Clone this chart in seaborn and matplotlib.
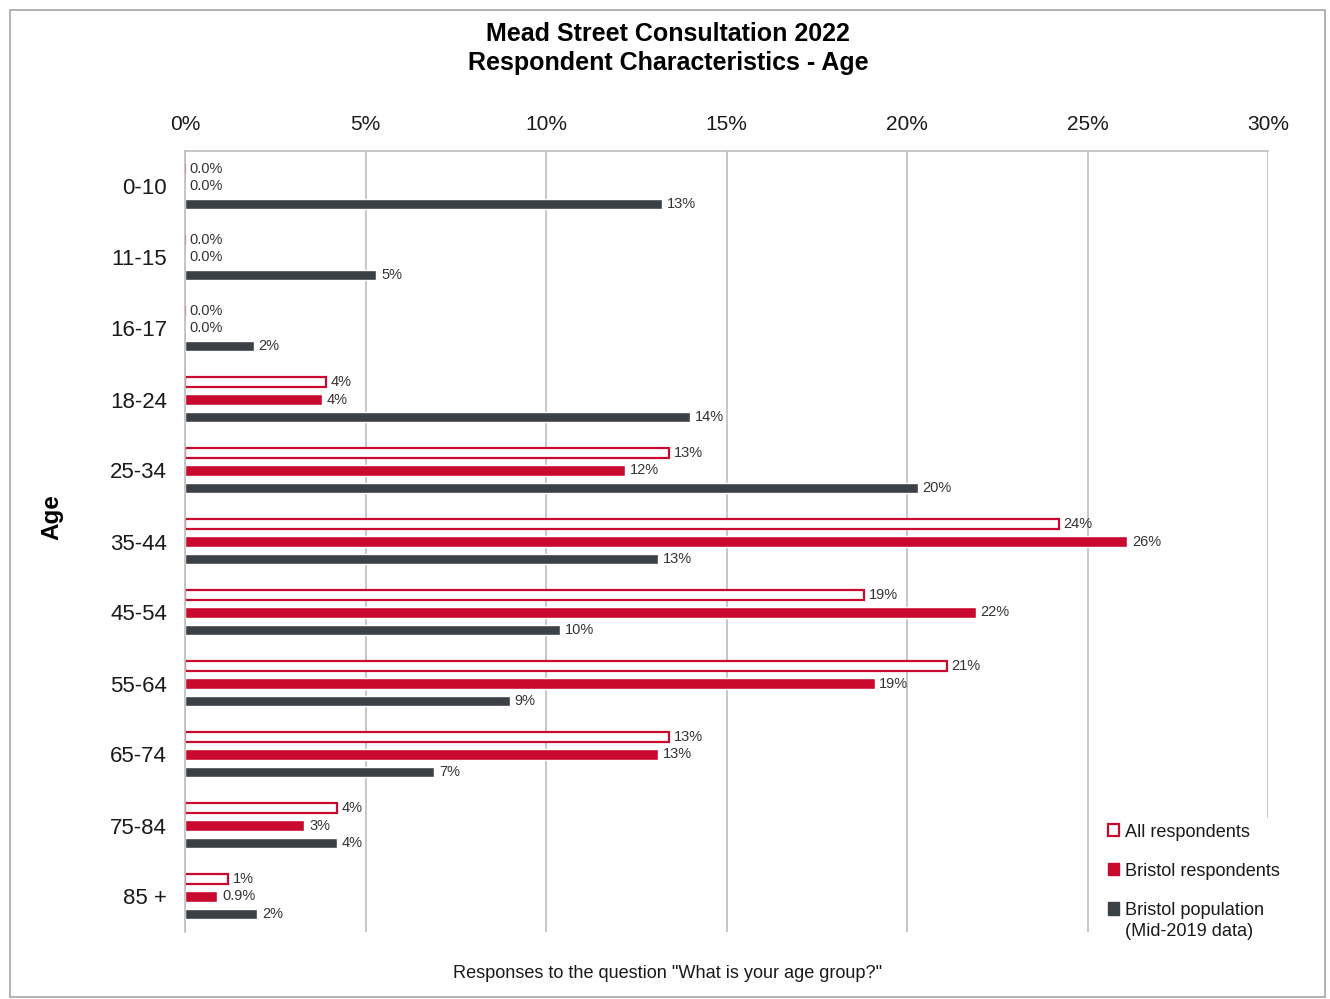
import numpy as np
import pandas as pd
import matplotlib
matplotlib.use("Agg")
import matplotlib.pyplot as plt
from matplotlib.patches import Patch, Rectangle
from matplotlib.ticker import PercentFormatter
import seaborn as sns

# Age groups and the share of each group (%)
age_groups = ["0-10", "11-15", "16-17", "18-24", "25-34", "35-44",
              "45-54", "55-64", "65-74", "75-84", "85 +"]
all_respondents = [0.0, 0.0, 0.0, 3.9, 13.4, 24.2, 18.8, 21.1, 13.4, 4.2, 1.2]
bristol_respondents = [0.0, 0.0, 0.0, 3.8, 12.2, 26.1, 21.9, 19.1, 13.1, 3.3, 0.9]
bristol_population = [13.2, 5.3, 1.9, 14.0, 20.3, 13.1, 10.4, 9.0, 6.9, 4.2, 2.0]

series_names = ["All respondents", "Bristol respondents", "Bristol population"]
x_ticks = [0, 5, 10, 15, 20, 25, 30]

RED = "#C90A2E"
DARK = "#3C4047"
GRID = "#BDBDBD"

df = pd.DataFrame({
    "Age": age_groups * 3,
    "Percent": all_respondents + bristol_respondents + bristol_population,
    "Series": np.repeat(series_names, len(age_groups)),
})

sns.set_theme(style="white")
plt.rcParams["font.family"] = ["Liberation Sans", "DejaVu Sans"]

fig = plt.figure(figsize=(13.3, 9.99), dpi=100)
ax = fig.add_axes([185 / 1330, 1 - 932 / 999, (1268 - 185) / 1330, (932 - 151) / 999])

sns.barplot(data=df, y="Age", x="Percent", hue="Series", order=age_groups,
            hue_order=series_names, orient="h", width=0.74, saturation=1,
            palette=[RED, RED, DARK], legend=False, ax=ax, errorbar=None)

# slimmer bars, same centres
bar_h = 0.145
for cont in ax.containers:
    for p in cont.patches:
        yc = p.get_y() + p.get_height() / 2
        p.set_height(bar_h)
        p.set_y(yc - bar_h / 2)
for p in ax.containers[0].patches:
    p.set_facecolor("white")
    p.set_edgecolor(RED)
    p.set_linewidth(1.6)


def fmt(v):
    return f"{v:.1f}%" if v < 1 else f"{v:.0f}%"


for cont, vals in zip(ax.containers, [all_respondents, bristol_respondents, bristol_population]):
    ax.bar_label(cont, labels=[fmt(v) for v in vals], padding=3.5,
                 fontsize=10.5, color="#333333")

ax.set_xlim(0, 30)
ax.set_ylim(10.5, -0.5)
ax.set_xticks(x_ticks)
ax.xaxis.set_major_formatter(PercentFormatter(decimals=0))
ax.xaxis.tick_top()
ax.tick_params(axis="x", length=0, pad=12, labelsize=15, labelcolor="#1a1a1a")
ax.grid(axis="x", color=GRID, linewidth=1.2)
ax.set_axisbelow(True)

ax.set_yticks(np.arange(-0.5, 11, 1), minor=True)
ax.tick_params(axis="y", which="major", length=0, pad=13, labelsize=16, labelcolor="#1a1a1a")
ax.tick_params(axis="y", which="minor", length=7, width=1, color=GRID, direction="out")

for side in ["right", "bottom"]:
    ax.spines[side].set_visible(False)
for side in ["top", "left"]:
    ax.spines[side].set_color(GRID)
    ax.spines[side].set_linewidth(1.2)

ax.set_xlabel("")
ax.set_ylabel("Age", fontsize=17.5, fontweight="bold", color="black")
ax.yaxis.set_label_coords((63 - 185) / 1083, (932 - 517) / 781)

fig.text(668 / 1330, 1 - 48.5 / 999,
         "Mead Street Consultation 2022\nRespondent Characteristics - Age",
         ha="center", va="center", fontsize=18, fontweight="bold",
         linespacing=1.24, color="black")
fig.text(668 / 1330, 1 - 973 / 999,
         'Responses to the question "What is your age group?"',
         ha="center", va="center", fontsize=13.1, color="#1a1a1a")

# white panel behind the legend
fig.patches.append(Rectangle((1095 / 1330, 1 - 950 / 999), 200 / 1330, 132 / 999,
                             transform=fig.transFigure, facecolor="white",
                             edgecolor="none", zorder=1))

handles = [Patch(facecolor="white", edgecolor=RED, linewidth=1.6),
           Patch(facecolor=RED, edgecolor=RED),
           Patch(facecolor=DARK, edgecolor=DARK)]
leg = fig.legend(handles, series_names, loc="upper left",
                 bbox_to_anchor=(1093 / 1330, 1 - 809 / 999),
                 frameon=False, fontsize=13.1, handlelength=0.65, handleheight=0.65,
                 handletextpad=0.3, labelspacing=1.22, borderpad=0.3)
for t in leg.get_texts():
    t.set_color("#1a1a1a")

# second line of the population entry, set under its label
leg_note = fig.text(0, 0, "(Mid-2019 data)", fontsize=13.1, color="#1a1a1a",
                    transform=fig.transFigure, va="top")
fig.canvas.draw()
bb = leg.get_texts()[2].get_window_extent().transformed(fig.transFigure.inverted())
leg_note.set_position((bb.x0, bb.y0 - 4 / 999))

fig.patches.append(Rectangle((10 / 1330, 2 / 999), 1315 / 1330, 987 / 999,
                             transform=fig.transFigure, fill=False,
                             edgecolor="#A6A6A6", linewidth=1.2))

fig.savefig("out.png", dpi=100, facecolor="white")
